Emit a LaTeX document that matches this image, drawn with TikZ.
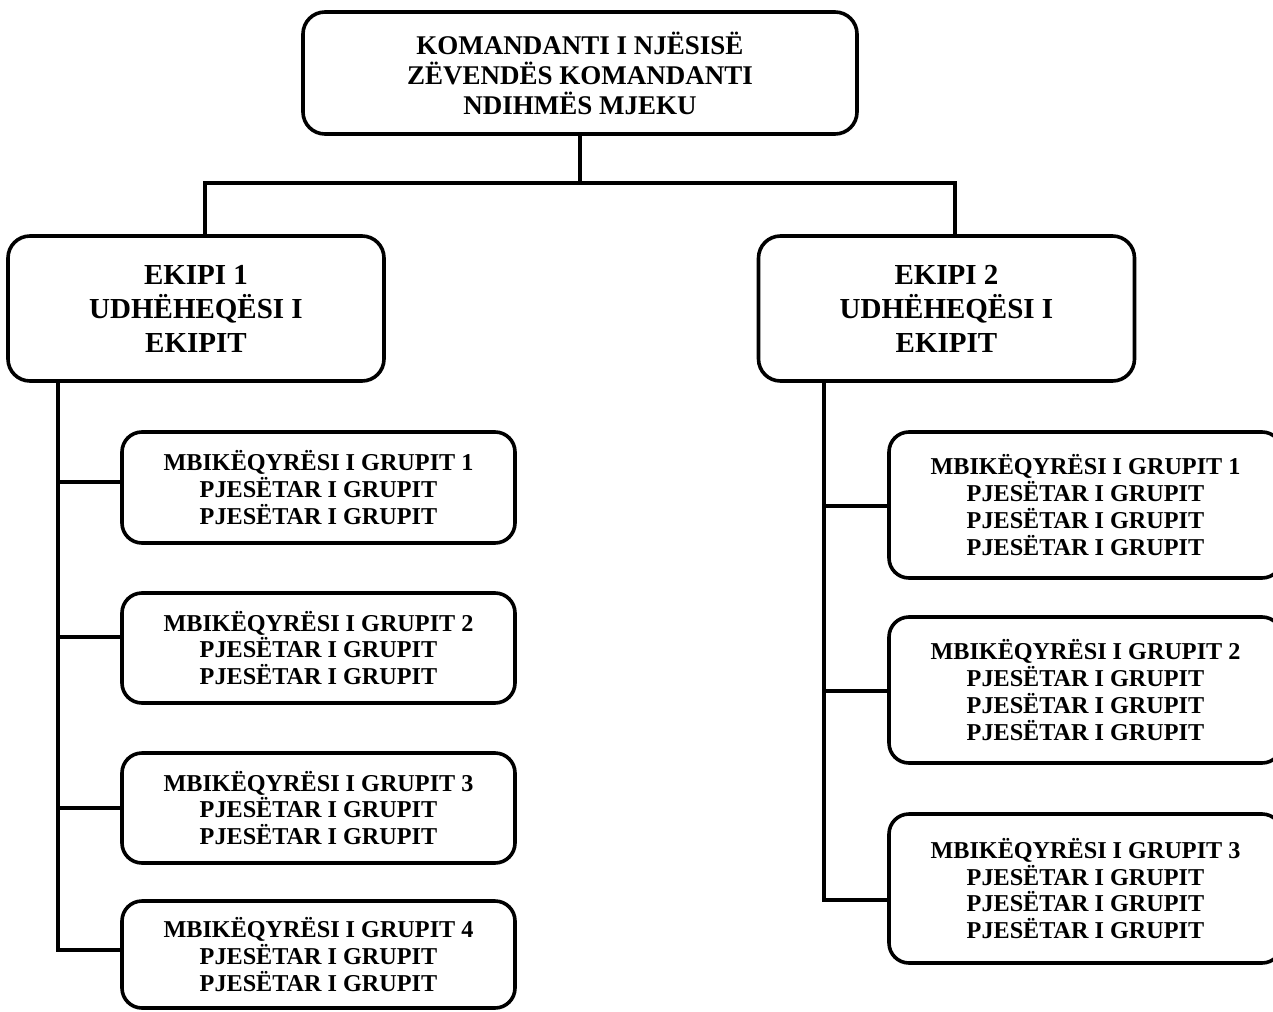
\documentclass[tikz,border=0pt]{standalone}
\usepackage{fontspec}
\setmainfont{Liberation Serif}
\begin{document}
\begin{tikzpicture}[x=1pt,y=-1pt,
  box/.style={draw, line width=3.6pt, rounded corners=22pt, align=center, inner sep=0pt, font=\bfseries},
  topbox/.style={box, minimum width=554pt, minimum height=122pt, font=\bfseries\fontsize{27}{30}\selectfont},
  teambox/.style={box, minimum width=376pt, minimum height=145pt, font=\bfseries\fontsize{29}{34}\selectfont},
  grpbox/.style={box, rounded corners=20pt, font=\bfseries\fontsize{24.2}{26.8}\selectfont},
  conn/.style={line width=3.6pt}]
\useasboundingbox (0,0) rectangle (1273,1011);
\node[topbox] (top) at (580,73) {KOMANDANTI I NJËSISË\\ZËVENDËS KOMANDANTI\\NDIHMËS MJEKU};
\node[teambox] (e1) at (196,308.5) {EKIPI 1\\UDHËHEQËSI I\\EKIPIT};
\node[teambox] (e2) at (946.5,308.5) {EKIPI 2\\UDHËHEQËSI I\\EKIPIT};
% left groups
\node[grpbox, minimum width=393pt, minimum height=111pt] (l1) at (318.5,487.5) {MBIKËQYRËSI I GRUPIT 1\\PJESËTAR I GRUPIT\\PJESËTAR I GRUPIT};
\node[grpbox, minimum width=393pt, minimum height=110pt] (l2) at (318.5,648) {MBIKËQYRËSI I GRUPIT 2\\PJESËTAR I GRUPIT\\PJESËTAR I GRUPIT};
\node[grpbox, minimum width=393pt, minimum height=110pt] (l3) at (318.5,808) {MBIKËQYRËSI I GRUPIT 3\\PJESËTAR I GRUPIT\\PJESËTAR I GRUPIT};
\node[grpbox, minimum width=393pt, minimum height=107pt] (l4) at (318.5,954.5) {MBIKËQYRËSI I GRUPIT 4\\PJESËTAR I GRUPIT\\PJESËTAR I GRUPIT};
% right groups
\node[grpbox, minimum width=393pt, minimum height=146pt] (r1) at (1085.5,505) {MBIKËQYRËSI I GRUPIT 1\\PJESËTAR I GRUPIT\\PJESËTAR I GRUPIT\\PJESËTAR I GRUPIT};
\node[grpbox, minimum width=393pt, minimum height=146pt] (r2) at (1085.5,690) {MBIKËQYRËSI I GRUPIT 2\\PJESËTAR I GRUPIT\\PJESËTAR I GRUPIT\\PJESËTAR I GRUPIT};
\node[grpbox, minimum width=393pt, minimum height=149pt] (r3) at (1085.5,888.5) {MBIKËQYRËSI I GRUPIT 3\\PJESËTAR I GRUPIT\\PJESËTAR I GRUPIT\\PJESËTAR I GRUPIT};
% connector points
\coordinate (bar) at (580,183);
\coordinate (hL) at (205,183);
\coordinate (hR) at (955,183);
\coordinate (tL) at (58,381);
\coordinate (tR) at (824,381);
\coordinate (cl1) at (58,482);
\coordinate (cl2) at (58,637);
\coordinate (cl3) at (58,808);
\coordinate (cl4) at (58,950);
\coordinate (cr1) at (824,506);
\coordinate (cr2) at (824,691);
\coordinate (cr3) at (824,900);
% connectors
\draw[conn] (top.south) -- (bar);
\draw[conn] (hL |- e1.north) -- (hL) -- (hR) -- (hR |- e2.north);
\draw[conn] (tL) -- (cl4) -- (cl4 -| l4.west);
\draw[conn] (cl1) -- (cl1 -| l1.west);
\draw[conn] (cl2) -- (cl2 -| l2.west);
\draw[conn] (cl3) -- (cl3 -| l3.west);
\draw[conn] (tR) -- (cr3) -- (cr3 -| r3.west);
\draw[conn] (cr1) -- (cr1 -| r1.west);
\draw[conn] (cr2) -- (cr2 -| r2.west);
\end{tikzpicture}
\end{document}
